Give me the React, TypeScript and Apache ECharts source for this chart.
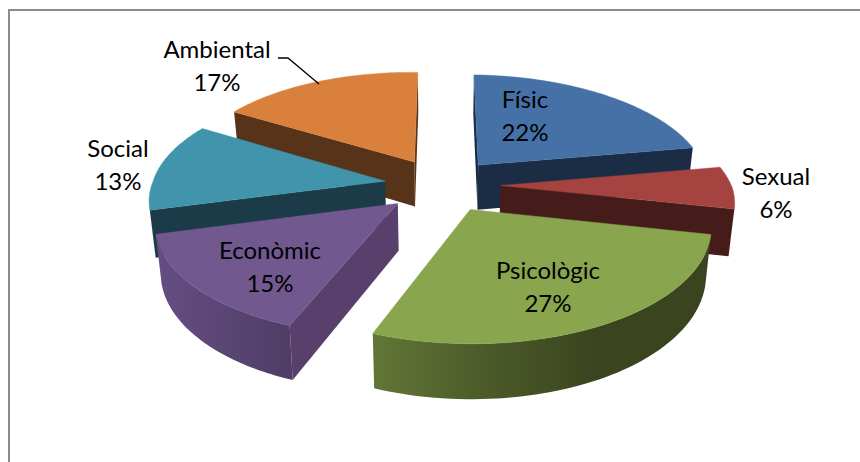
import React, { useEffect, useRef } from "react";
import * as echarts from "echarts";

const categories = ["Físic", "Sexual", "Psicològic", "Econòmic", "Social", "Ambiental"];
const shares = [21.8, 6.2, 27.49, 14.9, 13.0, 16.61];

const topColors = ["#4571a7", "#a54341", "#89a54e", "#71588f", "#4095ad", "#d9813c"];
const wallColors = ["#1b2d45", "#451c1a", "#3a441f", "#593f6b", "#1a3b47", "#57331a"];
const arcStops: string[][] = [
  ["#1b2d45", "#1b2d45"],
  ["#451c1a", "#451c1a"],
  ["#627636", "#4c5a29", "#3a441f", "#3a441f"],
  ["#654e82", "#4f3d65"],
  ["#1a3b47", "#1a3b47"],
  ["#57331a", "#57331a"],
];
// label centres on the page, in px
const labelCentres = [
  [525, 115], [776, 192], [548, 286], [270, 266], [118, 164], [217, 65],
];

const CX = 442.5, CY = 185, A = 232, B = 108, D = 46, P = 0.14, SHEAR = 0.012, EXPLODE = 0.25, SHRINK = 0.02, SKEW = 9;
const rad = (d: number) => (d * Math.PI) / 180;

function project(X: number, V: number, z: number): [number, number] {
  const w0 = 1 + P * V;
  const sx0 = CX + (A * X) / w0 + SKEW * Math.min(V, 0);
  const sx = CX + (sx0 - CX) * (1 - SHRINK * z);
  const sy = CY - (B * V) / w0 + (D * z) / w0 + SHEAR * (sx0 - CX);
  return [sx, sy];
}

function area(q: number[][]) {
  let s = 0;
  for (let i = 0; i < q.length; i++) {
    const a = q[i], b = q[(i + 1) % q.length];
    s += a[0] * b[1] - b[0] * a[1];
  }
  return s / 2;
}

const total = shares.reduce((a, b) => a + b, 0);
const starts: number[] = [];
shares.reduce((acc, v, i) => {
  starts[i] = acc;
  return acc + v;
}, 0);

function midAngle(i: number) {
  return ((starts[i] + shares[i] / 2) / total) * 360;
}

// back slices are painted first
const paintOrder = categories
  .map((_, i) => i)
  .sort((a, b) => Math.cos(rad(midAngle(b))) - Math.cos(rad(midAngle(a))));

function renderSlice(_params: any, api: any) {
  const i = api.value(0) as number;
  const t0 = (starts[i] / total) * 360;
  const t1 = ((starts[i] + shares[i]) / total) * 360;
  const mid = rad(midAngle(i));
  const ox = EXPLODE * Math.sin(mid);
  const oy = EXPLODE * Math.cos(mid);
  const rim = (t: number, z: number) => project(ox + Math.sin(rad(t)), oy + Math.cos(rad(t)), z);
  const apex = (z: number) => project(ox, oy, z);

  const n = 60;
  const ts: number[] = [];
  for (let k = 0; k <= n; k++) ts.push(t0 + ((t1 - t0) * k) / n);

  const children: any[] = [];
  const flat = (points: number[][], fill: any) => ({
    type: "polygon",
    shape: { points },
    style: { fill, stroke: fill === topColors[i] ? fill : "none", lineWidth: 0.5 },
  });

  // outer wall: only the stretches that face the viewer
  const stops = arcStops[i];
  const gradient = new echarts.graphic.LinearGradient(
    0, 0, 1, 0,
    stops.map((color, k) => ({ offset: k / (stops.length - 1), color }))
  );
  let run: number[] = [];
  const flush = () => {
    if (run.length > 1) {
      const up = run.map((t) => rim(t, 0));
      const down = run.map((t) => rim(t, 1)).reverse();
      children.push(flat([...up, ...down], gradient));
    }
    run = [];
  };
  for (let k = 0; k < n; k++) {
    const q = [rim(ts[k], 0), rim(ts[k + 1], 0), rim(ts[k + 1], 1), rim(ts[k], 1)];
    if (area(q) < 0) {
      if (!run.length) run.push(ts[k]);
      run.push(ts[k + 1]);
    } else flush();
  }
  flush();

  // radial walls
  const startWall = [apex(0), rim(t0, 0), rim(t0, 1), apex(1)];
  const endWall = [rim(t1, 0), apex(0), apex(1), rim(t1, 1)];
  if (area(startWall) < 0) children.push(flat(startWall, wallColors[i]));
  if (area(endWall) < 0) children.push(flat(endWall, wallColors[i]));

  // top face
  children.push(flat([apex(0), ...ts.map((t) => rim(t, 0))], topColors[i]));

  // label
  children.push({
    type: "text",
    z2: 100,
    style: {
      text: `${categories[i]}\n${Math.round(shares[i])}%`,
      x: labelCentres[i][0],
      y: labelCentres[i][1],
      align: "center",
      verticalAlign: "middle",
      fontFamily: "Lato",
      fontSize: 24,
      lineHeight: 33,
      fill: "#000000",
    },
  });
  return { type: "group", children };
}

export default function App() {
  const ref = useRef<HTMLDivElement>(null);
  useEffect(() => {
    const chart = echarts.init(ref.current!, undefined, { renderer: "svg" });
    chart.setOption({
      animation: false,
      backgroundColor: "#ffffff",
      graphic: [
        { type: "line", shape: { x1: 9, y1: 10, x2: 860, y2: 10 }, style: { stroke: "#8c8c8c", lineWidth: 2 } },
        { type: "line", shape: { x1: 9, y1: 9, x2: 9, y2: 462 }, style: { stroke: "#8c8c8c", lineWidth: 2 } },
        {
          type: "polyline",
          z: 10,
          shape: { points: [[278, 58], [288, 58], [319, 84]] },
          style: { stroke: "#000000", lineWidth: 1.3, fill: "none" },
        },
      ],
      series: [
        {
          type: "custom",
          coordinateSystem: "none",
          silent: true,
          renderItem: renderSlice,
          data: paintOrder.map((i) => [i]),
        },
      ],
    });
    return () => chart.dispose();
  }, []);
  return <div ref={ref} style={{ position: "fixed", left: 0, top: 0, width: 860, height: 462 }} />;
}
